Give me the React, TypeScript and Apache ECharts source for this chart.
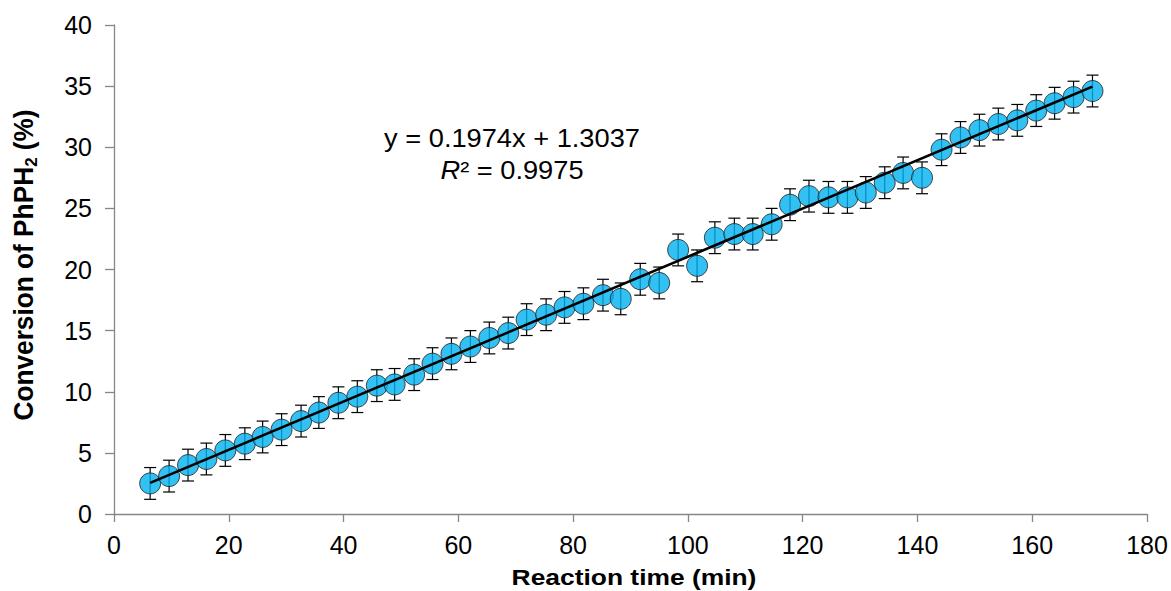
import React, { useEffect, useRef } from "react";
import * as echarts from "echarts";

const xValues = [
  6.3, 9.6, 12.9, 16.1, 19.4, 22.8, 25.9, 29.2, 32.6, 35.7,
  39.1, 42.4, 45.8, 48.9, 52.3, 55.5, 58.8, 62.1, 65.4, 68.7,
  71.9, 75.3, 78.5, 81.8, 85.2, 88.3, 91.7, 95.0, 98.3, 101.6,
  104.7, 108.1, 111.3, 114.6, 117.8, 121.1, 124.5, 127.8, 131.0, 134.3,
  137.5, 140.8, 144.2, 147.5, 150.8, 154.1, 157.4, 160.7, 163.9, 167.2,
  170.5,
];
const yValues = [
  2.5, 3.1, 4.0, 4.5, 5.2, 5.75, 6.3, 6.9, 7.6, 8.3,
  9.1, 9.6, 10.5, 10.6, 11.4, 12.3, 13.1, 13.7, 14.4, 14.8,
  15.9, 16.3, 16.9, 17.2, 17.9, 17.6, 19.2, 18.9, 21.6, 20.3,
  22.6, 22.9, 22.9, 23.7, 25.3, 26.0, 25.9, 25.9, 26.3, 27.1,
  27.9, 27.5, 29.8, 30.8, 31.4, 31.9, 32.2, 33.0, 33.6, 34.1,
  34.6,
];
const yErrors = [
  1.3, 1.3, 1.3, 1.3, 1.3, 1.3, 1.3, 1.3, 1.3, 1.3,
  1.3, 1.3, 1.3, 1.3, 1.3, 1.3, 1.3, 1.3, 1.3, 1.3,
  1.3, 1.3, 1.3, 1.3, 1.3, 1.3, 1.3, 1.3, 1.3, 1.3,
  1.3, 1.3, 1.3, 1.3, 1.3, 1.3, 1.3, 1.3, 1.3, 1.3,
  1.3, 1.3, 1.3, 1.3, 1.3, 1.3, 1.3, 1.3, 1.3, 1.3,
  1.3,
];
const trendSlope = 0.1974;
const trendIntercept = 1.3037;
const equationText = "y = 0.1974x + 1.3037";
const r2Value = "0.9975";
const xAxisTitle = "Reaction time (min)";
const yAxisTitleParts = ["Conversion of PhPH", "2", " (%)"];

const FONT = "'Liberation Sans', Arial, Helvetica, sans-serif";

export default function App() {
  const ref = useRef<HTMLDivElement>(null);

  useEffect(() => {
    if (!ref.current) return;
    const chart = echarts.init(ref.current, null, { renderer: "svg" });

    const points = xValues.map((x, i) => [x, yValues[i]]);
    const errData = xValues.map((x, i) => [x, yValues[i], yErrors[i]]);
    const xMin = xValues[0];
    const xMax = xValues[xValues.length - 1];
    const trend = [
      [xMin, trendSlope * xMin + trendIntercept],
      [xMax, trendSlope * xMax + trendIntercept],
    ];

    const axisLineStyle = { color: "#868686", width: 1.3 };

    chart.setOption({
      animation: false,
      backgroundColor: "#ffffff",
      grid: { left: 114, right: 24, top: 25, bottom: 77, containLabel: false },
      xAxis: {
        type: "value",
        min: 0,
        max: 180,
        interval: 20,
        splitLine: { show: false },
        axisLine: { show: true, onZero: false, lineStyle: axisLineStyle },
        axisTick: { show: true, length: 8, lineStyle: axisLineStyle },
        axisLabel: {
          color: "#000",
          fontFamily: FONT,
          fontSize: 25,
          margin: 18,
        },
      },
      yAxis: {
        type: "value",
        min: 0,
        max: 40,
        interval: 5,
        splitLine: { show: false },
        axisLine: { show: true, onZero: false, lineStyle: axisLineStyle },
        axisTick: { show: true, length: 9, lineStyle: axisLineStyle },
        axisLabel: {
          color: "#000",
          fontFamily: FONT,
          fontSize: 25,
          margin: 22,
        },
      },
      series: [
        {
          type: "custom",
          name: "error",
          z: 1,
          data: errData,
          encode: { x: 0, y: 1 },
          renderItem: (params: any, api: any) => {
            const x = api.value(0);
            const y = api.value(1);
            const e = api.value(2);
            const top = api.coord([x, y + e]);
            const bot = api.coord([x, y - e]);
            const hw = 6;
            const st = { stroke: "#000", lineWidth: 1.2 };
            return {
              type: "group",
              children: [
                { type: "line", shape: { x1: top[0], y1: top[1], x2: bot[0], y2: bot[1] }, style: st },
                { type: "line", shape: { x1: top[0] - hw, y1: top[1], x2: top[0] + hw, y2: top[1] }, style: st },
                { type: "line", shape: { x1: bot[0] - hw, y1: bot[1], x2: bot[0] + hw, y2: bot[1] }, style: st },
              ],
            };
          },
        },
        {
          type: "scatter",
          name: "Conversion",
          z: 2,
          data: points,
          symbol: "circle",
          symbolSize: 21,
          itemStyle: { color: "#00B0F0", borderColor: "#1e1e1e", borderWidth: 1 },
        },
        {
          type: "line",
          name: "Trend",
          z: 3,
          data: trend,
          showSymbol: false,
          symbol: "none",
          lineStyle: { color: "#000", width: 2.6 },
        },
      ],
      graphic: [
        {
          type: "text",
          x: 512,
          y: 138,
          scaleX: 1.09,
          style: {
            text: equationText,
            font: `25px ${FONT}`,
            fill: "#000",
            align: "center",
            verticalAlign: "middle",
          },
        },
        {
          type: "text",
          x: 512,
          y: 170,
          scaleX: 1.09,
          style: {
            text: `{i|R}{n|² = ${r2Value}}`,
            align: "center",
            verticalAlign: "middle",
            rich: {
              i: { fontFamily: FONT, fontSize: 25, fontStyle: "italic", fill: "#000" },
              n: { fontFamily: FONT, fontSize: 25, fill: "#000" },
            },
          },
        },
        {
          type: "text",
          x: 634,
          y: 577,
          scaleX: 1.2,
          style: {
            text: xAxisTitle,
            font: `bold 22px ${FONT}`,
            fill: "#000",
            align: "center",
            verticalAlign: "middle",
          },
        },
        {
          type: "text",
          x: 24,
          y: 265,
          rotation: Math.PI / 2,
          scaleX: 1.05,
          scaleY: 1.08,
          style: {
            text: `{a|${yAxisTitleParts[0]}}{s|${yAxisTitleParts[1]}}{a|${yAxisTitleParts[2]}}`,
            align: "center",
            verticalAlign: "middle",
            rich: {
              a: { fontFamily: FONT, fontSize: 25, fontWeight: "bold", fill: "#000", lineHeight: 30 },
              s: { fontFamily: FONT, fontSize: 16, fontWeight: "bold", fill: "#000", lineHeight: 16, verticalAlign: "bottom" },
            },
          },
        },
      ],
    });

    return () => {
      chart.dispose();
    };
  }, []);

  return (
    <div
      ref={ref}
      style={{ position: "fixed", left: 0, top: 0, width: 1171, height: 591, background: "#fff" }}
    />
  );
}
